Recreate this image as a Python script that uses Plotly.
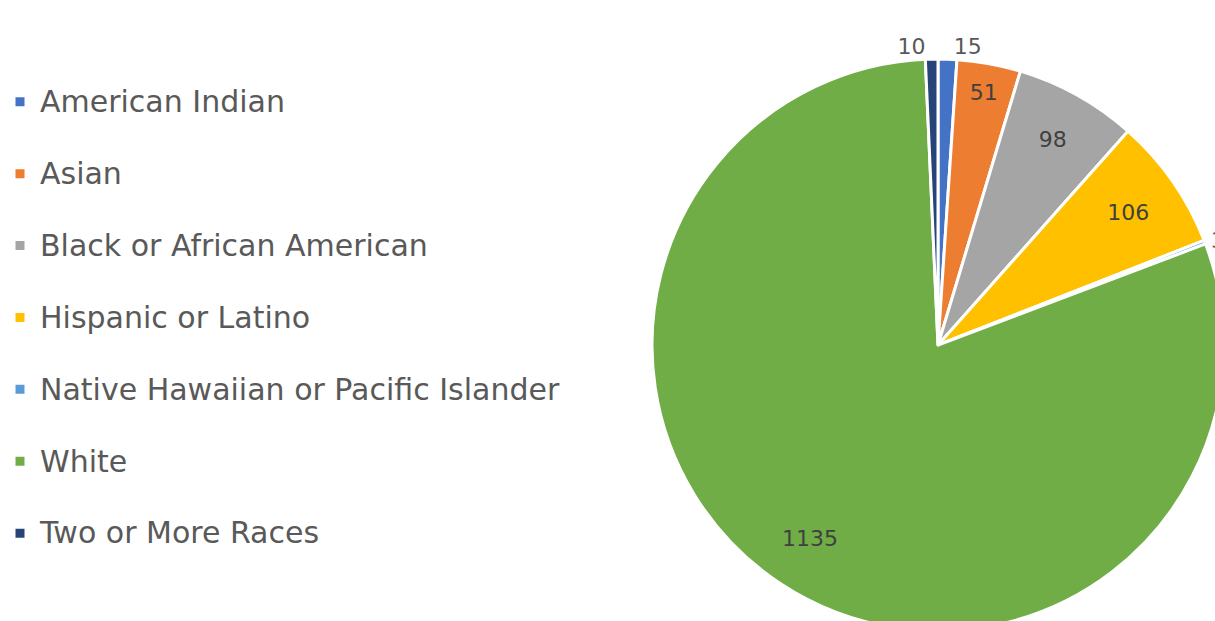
import math
import plotly.graph_objects as go

# Student enrollment by race / ethnicity
categories = [
    "American Indian",
    "Asian",
    "Black or African American",
    "Hispanic or Latino",
    "Native Hawaiian or Pacific Islander",
    "White",
    "Two or More Races",
]
counts = [15, 51, 98, 106, 3, 1135, 10]
slice_colors = ["#4472C4", "#ED7D31", "#A5A5A5", "#FFC000", "#5B9BD5", "#70AD47", "#264478"]
label_positions = ["outside", "inside", "inside", "inside", "outside", "none", "outside"]

FIG_W, FIG_H = 1240, 640
LEGEND_ROW_FONT = 26.5   # sets legend row spacing
LEGEND_TEXT_FONT = 30    # size the legend text is drawn at
LABEL_FONT = 22

# a blank second line gives each legend entry a taller row
legend_names = [
    f'<span style="font-size:{LEGEND_TEXT_FONT}px">{c}</span><br>\u00a0' for c in categories
]

pie_x = [0.5258, 0.9871]
pie_y = [0.0141, 0.9078]

fig = go.Figure(
    go.Pie(
        labels=legend_names,
        values=counts,
        sort=False,
        direction="clockwise",
        rotation=0,
        marker=dict(colors=slice_colors, line=dict(color="white", width=3)),
        texttemplate="%{value}",
        textposition=label_positions,
        insidetextorientation="horizontal",
        insidetextfont=dict(family="DejaVu Sans", size=LABEL_FONT, color="#404040"),
        outsidetextfont=dict(family="DejaVu Sans", size=LABEL_FONT, color="#595959"),
        hovertemplate="%{value}<extra></extra>",
        domain=dict(x=pie_x, y=pie_y),
    )
)

# value label of the largest slice, placed along its mid angle toward the rim
big = counts.index(max(counts))
total = sum(counts)
start = sum(counts[:big]) / total * 2 * math.pi
mid = start + counts[big] / total * math.pi
radius_px = min((pie_x[1] - pie_x[0]) * FIG_W, (pie_y[1] - pie_y[0]) * FIG_H) / 2 - 3
dist = 0.82 * radius_px
fig.add_annotation(
    x=sum(pie_x) / 2,
    y=sum(pie_y) / 2,
    xref="paper",
    yref="paper",
    xanchor="center",
    yanchor="middle",
    xshift=dist * math.sin(mid),
    yshift=dist * math.cos(mid),
    text=str(counts[big]),
    showarrow=False,
    font=dict(family="DejaVu Sans", size=LABEL_FONT, color="#404040"),
)

fig.update_layout(
    width=FIG_W,
    height=FIG_H,
    margin=dict(l=0, r=0, t=0, b=0),
    paper_bgcolor="white",
    plot_bgcolor="white",
    showlegend=True,
    legend=dict(
        x=0.0,
        xanchor="left",
        y=1 - 78 / FIG_H,
        yanchor="top",
        valign="top",
        font=dict(family="DejaVu Sans", size=LEGEND_ROW_FONT, color="#595959"),
        bgcolor="rgba(0,0,0,0)",
    ),
)

fig.write_html(
    "out.html",
    post_script="document.documentElement.style.overflow='hidden';document.body.style.overflow='hidden';",
)
